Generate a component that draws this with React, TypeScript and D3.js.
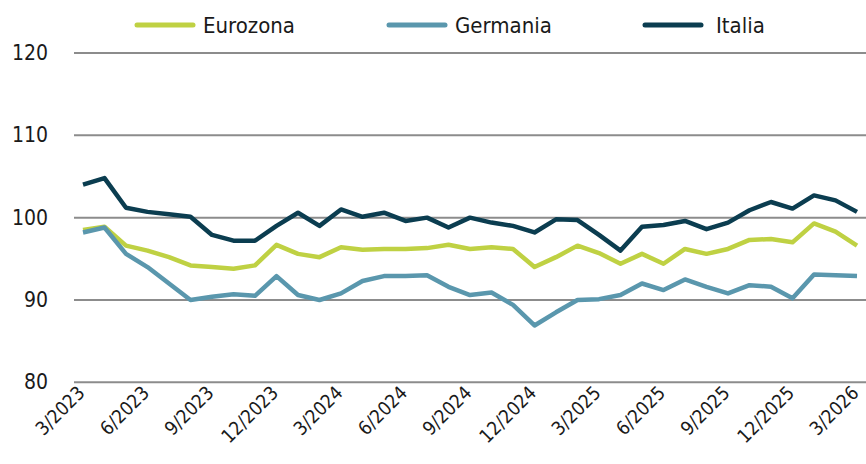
import * as React from "react";
import * as d3 from "d3";

const months: string[] = [];
for (let i: number = 0; i < 37; i += 1) {
    const m: number = ((2 + i) % 12) + 1;
    const y: number = 2023 + Math.floor((2 + i) / 12);
    months.push(`${m}/${y}`);
}

const eurozona: number[] = [98.5, 98.9, 96.6, 96.0, 95.2, 94.2, 94.0, 93.8, 94.2, 96.7, 95.6, 95.2, 96.4,
    96.1, 96.2, 96.2, 96.3, 96.7, 96.2, 96.4, 96.2, 94.0, 95.2, 96.6, 95.7, 94.4, 95.6, 94.4, 96.2,
    95.6, 96.2, 97.3, 97.4, 97.0, 99.3, 98.3, 96.6];
const germania: number[] = [98.2, 98.8, 95.6, 94.0, 92.0, 90.0, 90.4, 90.7, 90.5, 92.9, 90.6, 90.0, 90.8,
    92.3, 92.9, 92.9, 93.0, 91.6, 90.6, 90.9, 89.4, 86.9, 88.5, 90.0, 90.1, 90.6, 92.0, 91.2, 92.5,
    91.6, 90.8, 91.8, 91.6, 90.2, 93.1, 93.0, 92.9];
const italia: number[] = [104.0, 104.8, 101.2, 100.7, 100.4, 100.1, 97.9, 97.2, 97.2, 99.0, 100.6, 99.0, 101.0,
    100.1, 100.6, 99.6, 100.0, 98.8, 100.0, 99.4, 99.0, 98.2, 99.8, 99.7, 97.9, 96.0, 98.9, 99.1, 99.6,
    98.6, 99.4, 100.9, 101.9, 101.1, 102.7, 102.1, 100.7];

const yTicks: number[] = [80, 90, 100, 110, 120];

const seriesNames: string[] = ["Eurozona", "Germania", "Italia"];
const seriesColors: string[] = ["#bfd143", "#5a97ad", "#0b3d50"];

const font: string = "'Liberation Sans Narrow', 'DejaVu Sans Condensed', 'Roboto Condensed', sans-serif";

export default function App(): JSX.Element {
    const ref = React.useRef<SVGSVGElement>(null);

    React.useEffect(() => {
        const svg = d3.select(ref.current);
        svg.selectAll("*").remove();

        const x = d3.scaleLinear().domain([0, months.length - 1]).range([83, 857]);
        const y = d3.scaleLinear().domain([80, 120]).range([382.3, 53]);

        // gridlines + y labels
        const grid = svg.append("g");
        grid.selectAll("line")
            .data(yTicks).enter().append("line")
            .attr("x1", 74)
            .attr("x2", 866)
            .attr("y1", (d: number) => y(d))
            .attr("y2", (d: number) => y(d))
            .attr("stroke", "#8c8c8c")
            .attr("stroke-width", 2);
        grid.selectAll("text")
            .data(yTicks).enter().append("text")
            .attr("x", 48)
            .attr("y", (d: number) => y(d) + 7)
            .attr("text-anchor", "end")
            .attr("font-family", font)
            .attr("font-size", 21)
            .attr("fill", "#1a1a1a")
            .text((d: number) => String(d));

        // x labels every 3 months
        const xIdx: number[] = months.map((_, i: number) => i).filter((i: number) => i % 3 === 0);
        svg.append("g").selectAll("text")
            .data(xIdx).enter().append("text")
            .attr("transform", (i: number) => `translate(${x(i) + 3}, ${394}) rotate(-45)`)
            .attr("text-anchor", "end")
            .attr("font-family", font)
            .attr("font-size", 19)
            .attr("fill", "#1a1a1a")
            .text((i: number) => months[i]);

        const line = d3.line<number>()
            .x((_: number, i: number) => x(i))
            .y((d: number) => y(d));

        const datas: number[][] = [eurozona, germania, italia];
        datas.forEach((data: number[], k: number) => {
            svg.append("path")
                .datum(data)
                .attr("d", line)
                .attr("fill", "none")
                .attr("stroke", seriesColors[k])
                .attr("stroke-width", 4.5)
                .attr("stroke-linejoin", "round");
        });

        // legend
        const legendX: number[] = [137, 389, 645];
        const legend = svg.append("g").selectAll("g")
            .data(seriesNames).enter().append("g")
            .attr("transform", (_: string, i: number) => `translate(${legendX[i]}, 25)`);
        legend.append("line")
            .attr("x1", 0)
            .attr("x2", 56)
            .attr("stroke", (_: string, i: number) => seriesColors[i])
            .attr("stroke-width", 5)
            .attr("stroke-linecap", "round");
        legend.append("text")
            .attr("x", (_: string, i: number) => (i === 2 ? 71 : 66))
            .attr("y", 8)
            .attr("font-family", font)
            .attr("font-size", 22)
            .attr("fill", "#1a1a1a")
            .text((d: string) => d);
    }, []);

    return <svg ref={ref} width={866} height={464}
        style={{ position: "absolute", left: 0, top: 0, background: "#fff" }} />;
}
